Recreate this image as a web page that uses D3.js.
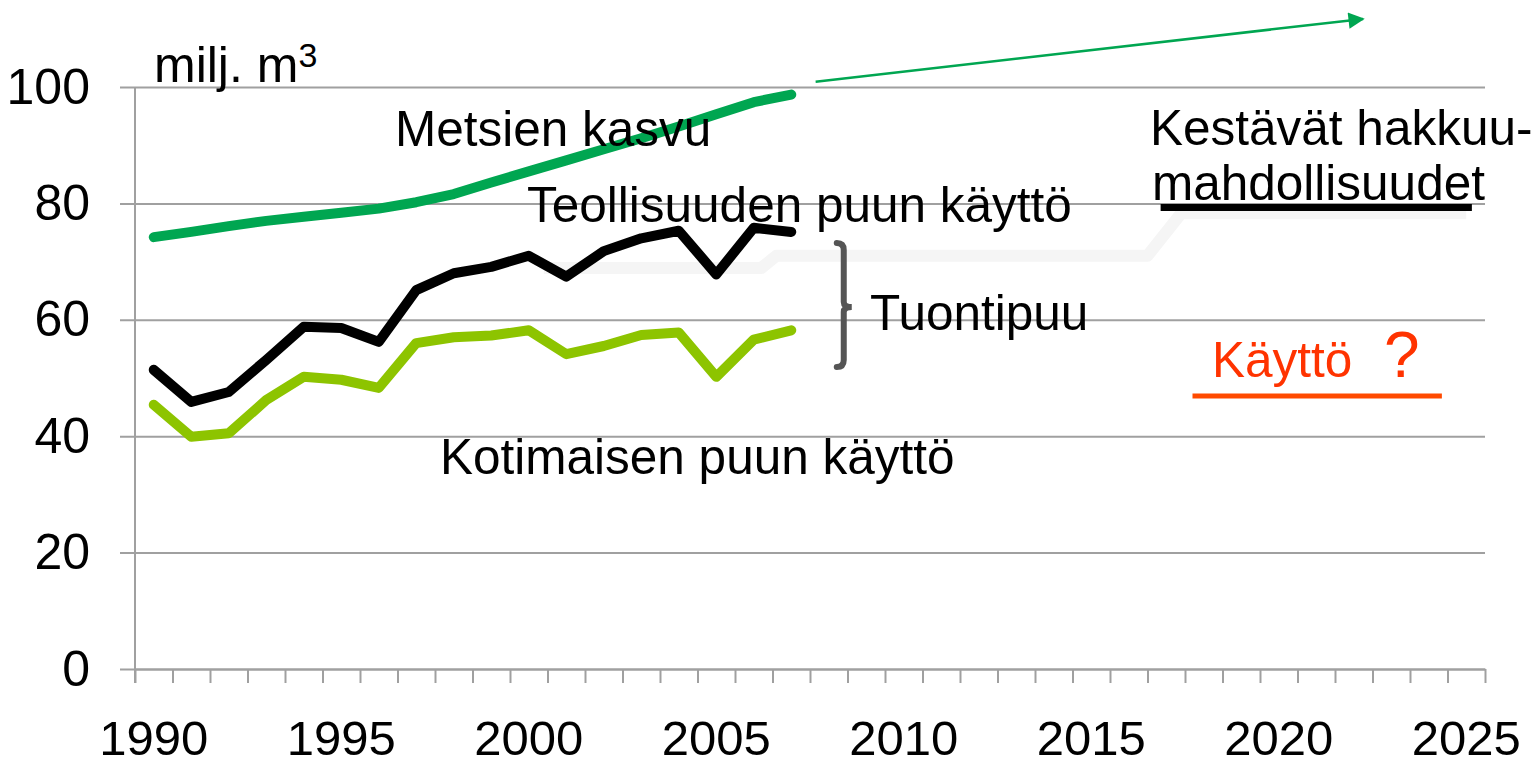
<!DOCTYPE html>
<html>
<head>
<meta charset="utf-8">
<script src="https://cdn.jsdelivr.net/npm/d3@7"></script>
<style>
  body { margin: 0; background: #fff; }
  svg text { font-family: "Liberation Sans", Arial, sans-serif; fill: #000; }
</style>
</head>
<body>
<script>
// years on the category axis
var years = d3.range(1990, 2026);
var dataYears = d3.range(1990, 2008);
var xLabels = [1990, 1995, 2000, 2005, 2010, 2015, 2020, 2025];
var yTicks = [0, 20, 40, 60, 80, 100];

// series (milj. m3)
var growth   = [74.2, 75.1, 76.1, 77.0, 77.7, 78.4, 79.1, 80.2, 81.6, 83.6, 85.5, 87.4, 89.3, 91.2, 93.2, 95.3, 97.4, 98.7];
var industry = [51.4, 45.9, 47.6, 53.1, 58.8, 58.6, 56.2, 65.1, 68.0, 69.1, 71.0, 67.4, 71.8, 74.0, 75.3, 67.8, 75.8, 75.1];
var domestic = [45.4, 39.9, 40.5, 46.2, 50.2, 49.7, 48.3, 56.0, 57.0, 57.3, 58.2, 54.1, 55.5, 57.4, 57.8, 50.2, 56.6, 58.2];

// annotation marks, in (year, value) units
var growthArrow = [[2007.65, 100.9], [2022.25, 111.7]];
var sustainable = [[2016.85, 79.3], [2025.15, 79.3]];
var usage = [[2017.7, 46.9], [2024.35, 46.9]];
var shadow = [[2000.4, 68.9], [2006.2, 68.9], [2006.6, 71.0], [2016.5, 71.0], [2017.4, 78.3], [2025.0, 78.3]];
var importBrace = {year: 2008.4, top: 73.2, mid: 62.2, bottom: 51.9};

var W = 1537, H = 766;
var m = {left: 135, right: 1485, top: 87, bottom: 669};

var svg = d3.select("body").append("svg")
    .attr("width", W)
    .attr("height", H);

var x = d3.scaleBand().domain(years).range([m.left, m.right]);
var xLin = d3.scaleLinear().domain([1989.5, 2025.5]).range([m.left, m.right]);
var y = d3.scaleLinear().domain([0, 100]).range([m.bottom, m.top]);

// horizontal grid + y labels
var yAxis = svg.append("g")
    .attr("transform", "translate(120,0)")
    .call(d3.axisLeft(y).tickValues(yTicks).tickSize(-(m.right - 120)).tickPadding(30));
yAxis.select(".domain").remove();
yAxis.selectAll("line").attr("stroke", "#a0a0a0").attr("stroke-width", 2);
yAxis.selectAll("text")
    .attr("font-size", 50)
    .attr("fill", "#000")
    .style("font-family", "'Liberation Sans', Arial, sans-serif");

// vertical axis line
svg.append("line")
    .attr("x1", m.left).attr("x2", m.left)
    .attr("y1", y(100)).attr("y2", m.bottom + 14)
    .attr("stroke", "#a0a0a0").attr("stroke-width", 2);

// small ticks between categories
var tickAxis = svg.append("g")
    .attr("transform", "translate(0," + m.bottom + ")")
    .call(d3.axisBottom(xLin).tickValues(d3.range(1989.5, 2025.6, 1)).tickSize(14).tickSizeOuter(0).tickFormat(""));
tickAxis.selectAll("line, path").attr("stroke", "#a0a0a0").attr("stroke-width", 2);

// year labels
var xAxis = svg.append("g")
    .attr("transform", "translate(0," + m.bottom + ")")
    .call(d3.axisBottom(x).tickValues(xLabels).tickSize(0).tickPadding(51));
xAxis.select(".domain").remove();
xAxis.selectAll("text")
    .attr("font-size", 49)
    .attr("fill", "#000")
    .style("font-family", "'Liberation Sans', Arial, sans-serif");

// faint shadow of the projection
var lin = d3.line().x(function(d) { return xLin(d[0]); }).y(function(d) { return y(d[1]); });
svg.append("path")
    .attr("d", lin(shadow))
    .attr("fill", "none")
    .attr("stroke", "#f5f5f5")
    .attr("stroke-width", 12)
    .attr("stroke-linejoin", "round");

// data lines
var line = d3.line()
    .x(function(d, i) { return x(dataYears[i]) + x.bandwidth() / 2; })
    .y(function(d) { return y(d); });

[[domestic, "#8dc400"], [industry, "#000000"], [growth, "#00a651"]].forEach(function(s) {
    svg.append("path")
        .attr("d", line(s[0]))
        .attr("fill", "none")
        .attr("stroke", s[1])
        .attr("stroke-width", 10)
        .attr("stroke-linecap", "round")
        .attr("stroke-linejoin", "round");
});

// growth projection arrow
svg.append("defs").append("marker")
    .attr("id", "arrow")
    .attr("viewBox", "0 0 10 10")
    .attr("refX", 9).attr("refY", 5)
    .attr("markerWidth", 7).attr("markerHeight", 6.5)
    .attr("markerUnits", "strokeWidth")
    .attr("orient", "auto")
    .append("path")
    .attr("d", "M0,0L10,5L0,10Z")
    .attr("fill", "#00a651");

svg.append("path")
    .attr("d", lin(growthArrow))
    .attr("stroke", "#00a651")
    .attr("stroke-width", 2.5)
    .attr("fill", "none")
    .attr("marker-end", "url(#arrow)");

// sustainable cutting line
svg.append("path")
    .attr("d", lin(sustainable))
    .attr("stroke", "#000")
    .attr("stroke-width", 7);

// usage line
svg.append("path")
    .attr("d", lin(usage))
    .attr("stroke", "#ff4a00")
    .attr("stroke-width", 5);

// brace for imported wood
var bx = xLin(importBrace.year), bt = y(importBrace.top), bm = y(importBrace.mid), bb = y(importBrace.bottom);
var bp = d3.path();
bp.moveTo(bx - 7, bt);
bp.quadraticCurveTo(bx, bt, bx, bt + 7);
bp.lineTo(bx, bm - 5);
bp.quadraticCurveTo(bx, bm, bx + 8, bm);
bp.quadraticCurveTo(bx, bm, bx, bm + 5);
bp.lineTo(bx, bb - 7);
bp.quadraticCurveTo(bx, bb, bx - 7, bb);
svg.append("path")
    .attr("d", bp.toString())
    .attr("fill", "none")
    .attr("stroke", "#555555")
    .attr("stroke-width", 6)
    .attr("stroke-linecap", "round");

// texts
function label(txt, tx, ty, size, color) {
    return svg.append("text")
        .attr("x", tx).attr("y", ty)
        .attr("font-size", size)
        .style("fill", color || "#000")
        .text(txt);
}

var unit = label("milj. m", 154, 82, 50);
unit.append("tspan").attr("font-size", 34).attr("dy", -15).text("3");

label("Metsien kasvu", 395, 146, 49.5);
label("Teollisuuden puun käyttö", 527, 222, 49.5);
label("Kotimaisen puun käyttö", 440, 474, 49.5);
label("Tuontipuu", 870, 330, 49.5);
label("Kestävät hakkuu-", 1150, 145, 49.5);
label("mahdollisuudet", 1152, 200, 49.5);
label("Käyttö", 1212, 377, 49.5, "#ff3300");
label("?", 1384, 377, 64, "#ff3300");
</script>
</body>
</html>
